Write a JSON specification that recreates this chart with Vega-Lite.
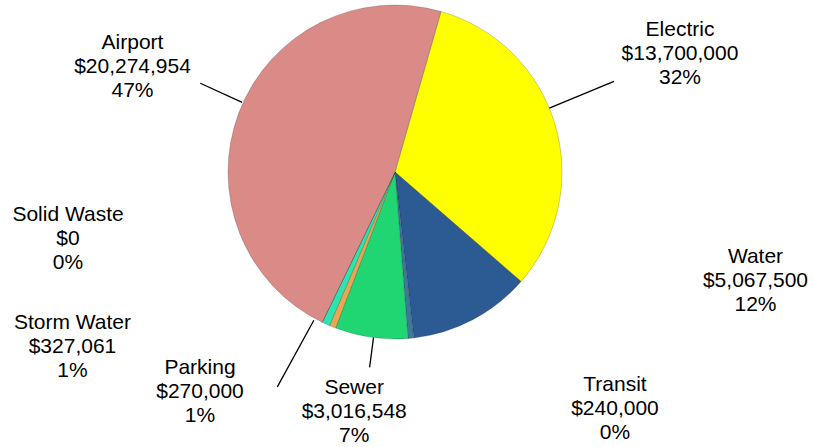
{
  "$schema": "https://vega.github.io/schema/vega-lite/v6.json",
  "width": 790,
  "height": 344,
  "autosize": "none",
  "padding": {"left": 0, "top": 0, "right": 24, "bottom": 103},
  "background": "white",
  "view": {"stroke": null},
  "config": {"text": {"font": "Liberation Sans", "fontSize": 21, "color": "#000000"}},
  "data": {"values": [
    {"idx": 1, "category": "Electric", "value": 13700000, "label": "Electric\n$13,700,000\n32%"},
    {"idx": 2, "category": "Water", "value": 5067500, "label": "Water\n$5,067,500\n12%"},
    {"idx": 3, "category": "Transit", "value": 240000, "label": "Transit\n$240,000\n0%"},
    {"idx": 4, "category": "Sewer", "value": 3016548, "label": "Sewer\n$3,016,548\n7%"},
    {"idx": 5, "category": "Parking", "value": 270000, "label": "Parking\n$270,000\n1%"},
    {"idx": 6, "category": "Storm Water", "value": 327061, "label": "Storm Water\n$327,061\n1%"},
    {"idx": 7, "category": "Solid Waste", "value": 0, "label": "Solid Waste\n$0\n0%"},
    {"idx": 8, "category": "Airport", "value": 20274954, "label": "Airport\n$20,274,954\n47%"}
  ]},
  "encoding": {
    "theta": {"field": "value", "type": "quantitative", "stack": true, "scale": {"range": [0.2793, 6.5625]}},
    "order": {"field": "idx", "type": "quantitative"}
  },
  "layer": [
    {
      "mark": {"type": "arc", "radius": 167, "stroke": "#000000", "strokeOpacity": 0.25, "strokeWidth": 0.75},
      "encoding": {
        "color": {"field": "category", "type": "nominal", "legend": null,
          "scale": {"domain": ["Electric", "Water", "Transit", "Sewer", "Parking", "Storm Water", "Solid Waste", "Airport"],
                    "range": ["#FFFF00", "#2C5A93", "#3C7A9A", "#20D672", "#E8A850", "#2DE3B0", "#999999", "#DA8B87"]}}
      }
    },
    {
      "mark": {"type": "arc", "radius": 214, "radius2": 168, "padAngle": 3.14, "thetaOffset": 0.0625, "theta2Offset": 0.0625, "filled": false, "color": "#000000", "strokeWidth": 1.3},
      "encoding": {"strokeOpacity": {"condition": {"test": "datum.category === 'Airport'", "value": 1}, "value": 0}}
    },
    {
      "mark": {"type": "arc", "radius": 237, "radius2": 167, "padAngle": 3.14, "thetaOffset": -0.1045, "theta2Offset": -0.1045, "filled": false, "color": "#000000", "strokeWidth": 1.3},
      "encoding": {"strokeOpacity": {"condition": {"test": "datum.category === 'Electric'", "value": 1}, "value": 0}}
    },
    {
      "mark": {"type": "arc", "radius": 197, "radius2": 167, "padAngle": 3.14, "thetaOffset": -0.0136, "theta2Offset": -0.0136, "filled": false, "color": "#000000", "strokeWidth": 1.3},
      "encoding": {"strokeOpacity": {"condition": {"test": "datum.category === 'Sewer'", "value": 1}, "value": 0}}
    },
    {
      "mark": {"type": "arc", "radius": 245, "radius2": 169, "padAngle": 3.14, "thetaOffset": 0.1175, "theta2Offset": 0.1175, "filled": false, "color": "#000000", "strokeWidth": 1.3},
      "encoding": {"strokeOpacity": {"condition": {"test": "datum.category === 'Parking'", "value": 1}, "value": 0}}
    },
    {
      "mark": {"type": "text", "radius": 292.6, "thetaOffset": 0.0925, "lineBreak": "\n", "lineHeight": 24, "align": "center", "baseline": "middle"},
      "encoding": {"text": {"condition": {"test": "datum.category === 'Airport'", "field": "label", "type": "nominal"}, "value": ""}}
    },
    {
      "mark": {"type": "text", "radius": 318.4, "thetaOffset": -0.1740, "lineBreak": "\n", "lineHeight": 24, "align": "center", "baseline": "middle"},
      "encoding": {"text": {"condition": {"test": "datum.category === 'Electric'", "field": "label", "type": "nominal"}, "value": ""}}
    },
    {
      "mark": {"type": "text", "radius": 370.3, "thetaOffset": -0.8556, "lineBreak": "\n", "lineHeight": 24, "align": "center", "baseline": "middle"},
      "encoding": {"text": {"condition": {"test": "datum.category === 'Water'", "field": "label", "type": "nominal"}, "value": ""}}
    },
    {
      "mark": {"type": "text", "radius": 306.2, "thetaOffset": -0.7058, "lineBreak": "\n", "lineHeight": 24, "align": "center", "baseline": "middle"},
      "encoding": {"text": {"condition": {"test": "datum.category === 'Transit'", "field": "label", "type": "nominal"}, "value": ""}}
    },
    {
      "mark": {"type": "text", "radius": 219.8, "thetaOffset": 0.0440, "lineBreak": "\n", "lineHeight": 24, "align": "center", "baseline": "middle"},
      "encoding": {"text": {"condition": {"test": "datum.category === 'Sewer'", "field": "label", "type": "nominal"}, "value": ""}}
    },
    {
      "mark": {"type": "text", "radius": 276.5, "thetaOffset": 0.3993, "lineBreak": "\n", "lineHeight": 24, "align": "center", "baseline": "middle"},
      "encoding": {"text": {"condition": {"test": "datum.category === 'Parking'", "field": "label", "type": "nominal"}, "value": ""}}
    },
    {
      "mark": {"type": "text", "radius": 356.0, "thetaOffset": 0.7065, "lineBreak": "\n", "lineHeight": 24, "align": "center", "baseline": "middle"},
      "encoding": {"text": {"condition": {"test": "datum.category === 'Storm Water'", "field": "label", "type": "nominal"}, "value": ""}}
    },
    {
      "mark": {"type": "text", "radius": 329.8, "thetaOffset": 0.9889, "lineBreak": "\n", "lineHeight": 24, "align": "center", "baseline": "middle"},
      "encoding": {"text": {"condition": {"test": "datum.category === 'Solid Waste'", "field": "label", "type": "nominal"}, "value": ""}}
    }
  ]
}
